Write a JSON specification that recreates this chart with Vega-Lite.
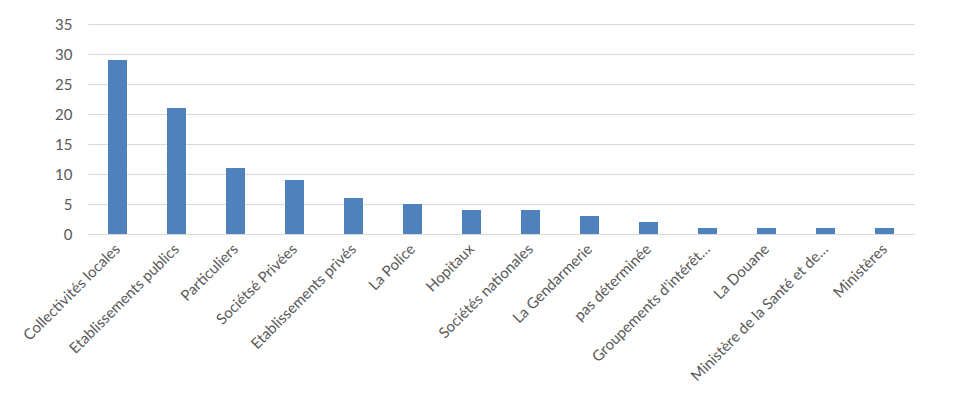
{
  "$schema": "https://vega.github.io/schema/vega-lite/v6.json",
  "width": 826,
  "height": 210,
  "autosize": {"type": "none"},
  "padding": {"left": 88, "top": 24, "right": 50, "bottom": 176},
  "background": "white",
  "config": {
    "view": {"stroke": null},
    "font": "Lato",
    "axis": {"labelFont": "Lato", "labelColor": "#595959", "labelFontSize": 15}
  },
  "data": {
    "values": [
      {"categorie": "Collectivités locales", "valeur": 29},
      {"categorie": "Etablissements publics", "valeur": 21},
      {"categorie": "Particuliers", "valeur": 11},
      {"categorie": "Sociétsé Privées", "valeur": 9},
      {"categorie": "Etablissements privés", "valeur": 6},
      {"categorie": "La Police", "valeur": 5},
      {"categorie": "Hopitaux", "valeur": 4},
      {"categorie": "Sociétés nationales", "valeur": 4},
      {"categorie": "La Gendarmerie", "valeur": 3},
      {"categorie": "pas déterminée", "valeur": 2},
      {"categorie": "Groupements d'intérêt…", "valeur": 1},
      {"categorie": "La Douane", "valeur": 1},
      {"categorie": "Ministère de la Santé et de…", "valeur": 1},
      {"categorie": "Ministères", "valeur": 1}
    ]
  },
  "mark": {"type": "bar", "color": "#4f81bd", "width": 19},
  "encoding": {
    "x": {
      "field": "categorie",
      "type": "nominal",
      "sort": null,
      "scale": {"paddingInner": 0, "paddingOuter": 0},
      "axis": {
        "title": null,
        "labelAngle": -45,
        "labelAlign": "right",
        "labelBaseline": "middle",
        "labelPadding": 12,
        "ticks": false,
        "domainColor": "#d9d9d9",
        "domainWidth": 1,
        "grid": false,
        "labelLimit": 300
      }
    },
    "y": {
      "field": "valeur",
      "type": "quantitative",
      "scale": {"domain": [0, 35], "nice": false},
      "axis": {
        "title": null,
        "values": [0, 5, 10, 15, 20, 25, 30, 35],
        "domain": false,
        "ticks": false,
        "labelPadding": 16,
        "gridColor": "#d9d9d9",
        "gridWidth": 1
      }
    }
  }
}
